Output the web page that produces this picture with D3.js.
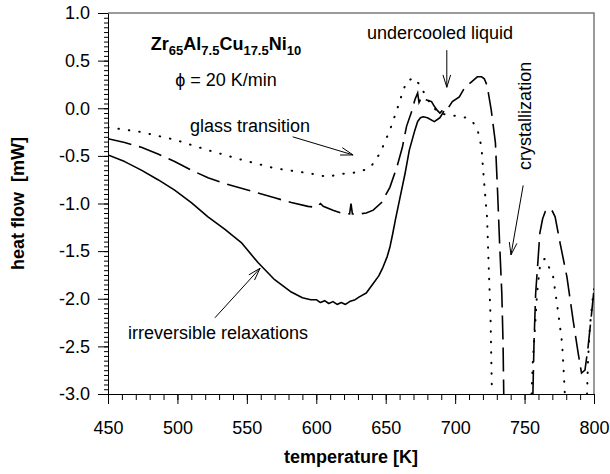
<!DOCTYPE html>
<html lang="en">
<head>
<meta charset="utf-8">
<title>DSC heat flow</title>
<script src="https://cdn.jsdelivr.net/npm/d3@7"></script>
<style>
  body { margin: 0; background: #fff; }
  text { font-family: "Liberation Sans", Arial, sans-serif; white-space: pre; }
</style>
</head>
<body>
<div id="chart"></div>
<script>
// values, temperature in K, heat flow in mW
var solidT = [450, 462, 474, 486, 498, 510, 522, 534, 546, 558, 570, 582, 590, 596, 600, 603, 606, 609, 612, 615, 618, 621, 624, 628, 631, 636, 641, 645, 648, 651, 653, 655, 657, 660, 664, 667, 671, 673, 675, 677, 680, 685, 689, 692];
var solidV = [-0.49, -0.56, -0.65, -0.75, -0.86, -0.99, -1.14, -1.27, -1.41, -1.62, -1.80, -1.93, -1.99, -2.01, -2.01, -2.04, -2.02, -2.05, -2.03, -2.06, -2.04, -2.06, -2.03, -2.01, -1.98, -1.94, -1.84, -1.76, -1.67, -1.56, -1.46, -1.32, -1.17, -0.96, -0.68, -0.44, -0.23, -0.14, -0.10, -0.09, -0.10, -0.14, -0.10, -0.03];

var dashT = [450, 462, 474, 486, 498, 510, 522, 534, 546, 558, 570, 582, 594, 600, 603, 605, 612, 618, 624, 625, 626, 631, 636, 641, 647, 653, 658, 662, 665, 669, 671, 673, 674, 676, 679, 683, 685, 687, 689, 691, 694, 698, 703, 707, 712, 716, 719, 721, 723, 726, 729, 730.6, 732, 733.6, 734.5, 735,
             745,
             756, 756.8, 758, 759.7, 761, 763, 765, 767.6, 770, 772, 775.5, 780.5, 785, 788.6, 791, 793.5, 795.7, 798.5, 800];
var dashV = [-0.32, -0.36, -0.41, -0.48, -0.56, -0.65, -0.73, -0.79, -0.84, -0.89, -0.94, -0.99, -1.03, -1.04, -1.00, -1.03, -1.07, -1.10, -1.11, -1.00, -1.11, -1.11, -1.10, -1.07, -0.99, -0.83, -0.62, -0.41, -0.19, -0.02, 0.09, 0.16, 0.06, 0.12, 0.09, 0.07, 0.02, -0.02, -0.05, -0.02, -0.02, 0.07, 0.12, 0.22, 0.28, 0.33, 0.33, 0.31, 0.24, -0.02, -0.36, -0.89, -1.41, -1.94, -2.46, -3.0,
             null,
             -3.0, -2.46, -1.94, -1.59, -1.31, -1.16, -1.08, -1.05, -1.08, -1.14, -1.41, -1.77, -2.23, -2.57, -2.78, -2.75, -2.51, -2.12, -1.90];

var dotT = [450, 474, 498, 522, 546, 570, 594, 608, 618, 631, 639, 646, 653, 658, 662, 665, 670, 675, 679, 684, 689, 694, 701, 708, 713, 716.5, 719, 720, 721.5, 723, 724, 725.5, 726.5,
            740,
            755, 756, 757.5, 759, 761, 763.3, 765, 767, 770.6, 774, 777, 778.4, 779,
            787,
            795, 795.7, 797, 799, 800];
var dotV = [-0.20, -0.25, -0.33, -0.44, -0.54, -0.63, -0.68, -0.72, -0.69, -0.67, -0.62, -0.47, -0.23, -0.02, 0.16, 0.28, 0.32, 0.24, 0.12, 0.01, -0.05, -0.07, -0.08, -0.10, -0.15, -0.25, -0.41, -0.62, -0.89, -1.15, -1.59, -2.20, -3.0,
            null,
            -3.0, -2.64, -2.30, -1.94, -1.67, -1.59, -1.58, -1.65, -1.77, -2.12, -2.46, -2.82, -3.0,
            null,
            -3.0, -2.64, -2.30, -2.01, -1.90];

var xTicks = [450, 500, 550, 600, 650, 700, 750, 800];
var yTicks = [-3.0, -2.5, -2.0, -1.5, -1.0, -0.5, 0.0, 0.5, 1.0];

var width = 610, height = 474;
var margin = {top: 13, right: 16, bottom: 80, left: 108};

var svg = d3.select("#chart").append("svg")
  .attr("width", width)
  .attr("height", height);

var x = d3.scaleLinear().domain([450, 800]).range([margin.left, width - margin.right]);
var y = d3.scaleLinear().domain([-3.0, 1.0]).range([height - margin.bottom, margin.top]);

svg.append("clipPath").attr("id", "plotclip")
  .append("rect")
  .attr("x", x(450)).attr("y", y(1.0) - 2)
  .attr("width", x(800) - x(450)).attr("height", y(-3.0) - y(1.0) + 2);

// frame, top and right in grey
svg.append("path")
  .attr("d", "M" + x(450) + "," + y(1.0) + "H" + x(800) + "V" + y(-3.0))
  .attr("fill", "none")
  .attr("stroke", "#7a7a7a")
  .attr("stroke-width", 1.5);

// minor ticks
var yMinor = d3.range(-3.0, 1.0001, 0.05);
svg.append("g")
  .attr("transform", "translate(" + x(450) + ",0)")
  .call(d3.axisLeft(y).tickValues(yMinor).tickSize(4).tickFormat(""))
  .call(function(g) { g.select(".domain").remove(); g.selectAll("text").remove(); });

var xMinor = d3.range(450, 801, 10);
svg.append("g")
  .attr("transform", "translate(0," + y(-3.0) + ")")
  .call(d3.axisBottom(x).tickValues(xMinor).tickSize(6).tickFormat(""))
  .call(function(g) { g.select(".domain").remove(); g.selectAll("text").remove(); });

// major axes
var yAxis = svg.append("g")
  .attr("transform", "translate(" + x(450) + ",0)")
  .call(d3.axisLeft(y).tickValues(yTicks).tickSize(10).tickSizeOuter(0).tickPadding(8)
    .tickFormat(function(d) { return d.toFixed(1); }));

var xAxis = svg.append("g")
  .attr("transform", "translate(0," + y(-3.0) + ")")
  .call(d3.axisBottom(x).tickValues(xTicks).tickSize(10).tickSizeOuter(0).tickPadding(17));

svg.selectAll(".tick text")
  .attr("font-family", "Liberation Sans, Arial, sans-serif")
  .attr("font-size", 18)
  .attr("fill", "#000");

// axis titles
svg.append("text")
  .attr("x", (x(450) + x(800)) / 2)
  .attr("y", 463)
  .attr("text-anchor", "middle")
  .attr("font-size", 18)
  .attr("font-weight", "bold")
  .text("temperature [K]");

svg.append("text")
  .attr("transform", "translate(24," + (y(-3.0) + y(1.0)) / 2 + ") rotate(-90)")
  .attr("text-anchor", "middle")
  .attr("font-size", 18)
  .attr("font-weight", "bold")
  .text("heat flow  [mW]");

// curves
function makeLine(ts, vs) {
  var pts = ts.map(function(t, i) { return [t, vs[i]]; });
  return d3.line()
    .defined(function(d) { return d[1] !== null; })
    .x(function(d) { return x(d[0]); })
    .y(function(d) { return y(d[1]); })(pts);
}

var curves = svg.append("g").attr("clip-path", "url(#plotclip)");

curves.append("path")
  .attr("d", makeLine(dotT, dotV))
  .attr("fill", "none")
  .attr("stroke", "#000")
  .attr("stroke-width", 2)
  .attr("stroke-linecap", "round")
  .attr("stroke-dasharray", "0.5,10");

curves.append("path")
  .attr("d", makeLine(dashT, dashV))
  .attr("fill", "none")
  .attr("stroke", "#000")
  .attr("stroke-width", 1.6)
  .attr("stroke-dasharray", "24,8");

curves.append("path")
  .attr("d", makeLine(solidT, solidV))
  .attr("fill", "none")
  .attr("stroke", "#000")
  .attr("stroke-width", 1.6)
  .attr("stroke-linejoin", "round");

// annotations
function arrow(t1, v1, t2, v2) {
  var x1 = x(t1), y1 = y(v1), x2 = x(t2), y2 = y(v2);
  var a = Math.atan2(y2 - y1, x2 - x1), len = 13, spread = 0.3;
  var g = svg.append("g").attr("stroke", "#000").attr("stroke-width", 1).attr("fill", "none");
  g.append("line").attr("x1", x1).attr("y1", y1).attr("x2", x2).attr("y2", y2);
  [-spread, spread].forEach(function(s) {
    g.append("line")
      .attr("x1", x2).attr("y1", y2)
      .attr("x2", x2 - len * Math.cos(a + s))
      .attr("y2", y2 - len * Math.sin(a + s));
  });
}

function label(t, v, str, anchor) {
  return svg.append("text")
    .attr("x", x(t)).attr("y", y(v))
    .attr("text-anchor", anchor || "start")
    .attr("font-size", 18)
    .text(str);
}

// Zr65Al7.5Cu17.5Ni10
var formula = svg.append("text")
  .attr("x", x(535)).attr("y", y(0.61))
  .attr("text-anchor", "middle")
  .attr("font-size", 18)
  .attr("font-weight", "bold");
[["Zr", "65"], ["Al", "7.5"], ["Cu", "17.5"], ["Ni", "10"]].forEach(function(p, i) {
  formula.append("tspan").attr("dy", i === 0 ? 0 : -5).text(p[0]);
  formula.append("tspan").attr("font-size", 13).attr("dy", 5).text(p[1]);
});

label(535, 0.23, "\u03d5 = 20 K/min", "middle");

label(509, -0.25, "glass transition");
arrow(583, -0.30, 626.5, -0.49);

label(636.5, 0.73, "undercooled liquid");
arrow(694, 0.61, 694, 0.22);

svg.append("text")
  .attr("transform", "translate(" + x(754.6) + "," + y(-0.08) + ") rotate(-90)")
  .attr("text-anchor", "middle")
  .attr("font-size", 18)
  .text("crystallization");
arrow(749, -0.81, 740.2, -1.54);

label(464.4, -2.42, "irreversible relaxations");
arrow(527, -2.20, 559.5, -1.68);
</script>
</body>
</html>
